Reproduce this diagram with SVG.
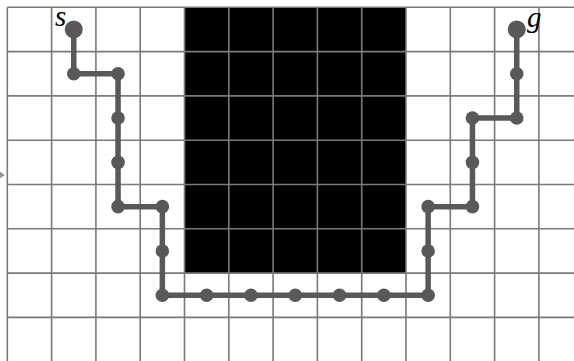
<svg xmlns="http://www.w3.org/2000/svg" width="574" height="361" viewBox="0 0 574 361">
<style>
.grid line{stroke:#7a7a7a;stroke-width:1.6}
.edge{stroke:#595959;stroke-width:5.5;stroke-linecap:round;fill:none}
.n{fill:#595959}
.lbl{font-family:"Liberation Serif",serif;font-style:italic;font-size:29px;fill:#000}
</style>
<rect width="574" height="361" fill="#fff"/>
<rect id="obstacle" x="184.5" y="7.3" width="221.5" height="265.8" fill="#000"/>
<g class="grid">
<line x1="7.3" y1="7.3" x2="7.3" y2="361"/>
<line x1="51.6" y1="7.3" x2="51.6" y2="361"/>
<line x1="95.9" y1="7.3" x2="95.9" y2="361"/>
<line x1="140.2" y1="7.3" x2="140.2" y2="361"/>
<line x1="184.5" y1="7.3" x2="184.5" y2="361"/>
<line x1="228.8" y1="7.3" x2="228.8" y2="361"/>
<line x1="273.1" y1="7.3" x2="273.1" y2="361"/>
<line x1="317.4" y1="7.3" x2="317.4" y2="361"/>
<line x1="361.7" y1="7.3" x2="361.7" y2="361"/>
<line x1="406" y1="7.3" x2="406" y2="361"/>
<line x1="450.3" y1="7.3" x2="450.3" y2="361"/>
<line x1="494.6" y1="7.3" x2="494.6" y2="361"/>
<line x1="538.9" y1="7.3" x2="538.9" y2="361"/>
<line x1="7.3" y1="7.3" x2="574" y2="7.3"/>
<line x1="7.3" y1="51.6" x2="574" y2="51.6"/>
<line x1="7.3" y1="95.9" x2="574" y2="95.9"/>
<line x1="7.3" y1="140.2" x2="574" y2="140.2"/>
<line x1="7.3" y1="184.5" x2="574" y2="184.5"/>
<line x1="7.3" y1="228.8" x2="574" y2="228.8"/>
<line x1="7.3" y1="273.1" x2="574" y2="273.1"/>
<line x1="7.3" y1="317.4" x2="574" y2="317.4"/>
</g>
<polygon points="0,171.7 5,175 0,178.3" fill="#8a9b98"/>
<g id="connectors">
<polyline class="edge" points="73.75,29.45 73.75,73.75 118.05,73.75 118.05,206.65 162.35,206.65 162.35,295.25 428.15,295.25 428.15,206.65 472.45,206.65 472.45,118.05 516.75,118.05 516.75,29.45"/>
</g>
<g id="s"><circle class="n" cx="73.75" cy="29.45" r="9"/><text class="lbl" x="55" y="26">s</text></g>
<g id="n1"><circle class="n" cx="73.75" cy="73.75" r="6.8"/></g>
<g id="n2"><circle class="n" cx="118.05" cy="73.75" r="6.8"/></g>
<g id="n3"><circle class="n" cx="118.05" cy="118.05" r="6.8"/></g>
<g id="n4"><circle class="n" cx="118.05" cy="162.35" r="6.8"/></g>
<g id="n5"><circle class="n" cx="118.05" cy="206.65" r="6.8"/></g>
<g id="n6"><circle class="n" cx="162.35" cy="206.65" r="6.8"/></g>
<g id="n7"><circle class="n" cx="162.35" cy="250.95" r="6.8"/></g>
<g id="n8"><circle class="n" cx="162.35" cy="295.25" r="6.8"/></g>
<g id="n9"><circle class="n" cx="206.65" cy="295.25" r="6.8"/></g>
<g id="n10"><circle class="n" cx="250.95" cy="295.25" r="6.8"/></g>
<g id="n11"><circle class="n" cx="295.25" cy="295.25" r="6.8"/></g>
<g id="n12"><circle class="n" cx="339.55" cy="295.25" r="6.8"/></g>
<g id="n13"><circle class="n" cx="383.85" cy="295.25" r="6.8"/></g>
<g id="n14"><circle class="n" cx="428.15" cy="295.25" r="6.8"/></g>
<g id="n15"><circle class="n" cx="428.15" cy="250.95" r="6.8"/></g>
<g id="n16"><circle class="n" cx="428.15" cy="206.65" r="6.8"/></g>
<g id="n17"><circle class="n" cx="472.45" cy="206.65" r="6.8"/></g>
<g id="n18"><circle class="n" cx="472.45" cy="162.35" r="6.8"/></g>
<g id="n19"><circle class="n" cx="472.45" cy="118.05" r="6.8"/></g>
<g id="n20"><circle class="n" cx="516.75" cy="118.05" r="6.8"/></g>
<g id="n21"><circle class="n" cx="516.75" cy="73.75" r="6.8"/></g>
<g id="g"><circle class="n" cx="516.75" cy="29.45" r="9"/><text class="lbl" x="527" y="27">g</text></g>
</svg>
